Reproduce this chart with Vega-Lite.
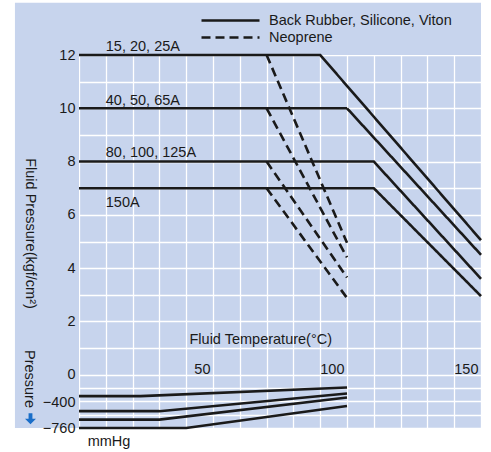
{
  "$schema": "https://vega.github.io/schema/vega-lite/v6.json",
  "width": 402,
  "height": 373,
  "padding": {"left": 14, "top": 2, "right": 5, "bottom": 5},
  "config": {
    "font": "Liberation Sans",
    "view": {"fill": "#c7d4ed", "stroke": null},
    "axis": {"labelFont": "Liberation Sans", "titleFont": "Liberation Sans", "labelFontSize": 14.5, "titleFontSize": 14.5, "labelColor": "#1a1a1a", "titleColor": "#1a1a1a", "titleFontWeight": "normal"},
    "text": {"font": "Liberation Sans", "fontSize": 14.5, "color": "#1a1a1a"}
  },
  "datasets": {
    "lines": [
      {"series": "15, 20, 25A", "material": "Back Rubber, Silicone, Viton", "temp": 0, "pressure": 12},
      {"series": "15, 20, 25A", "material": "Back Rubber, Silicone, Viton", "temp": 90, "pressure": 12},
      {"series": "15, 20, 25A", "material": "Back Rubber, Silicone, Viton", "temp": 150, "pressure": 5.05},
      {"series": "40, 50, 65A", "material": "Back Rubber, Silicone, Viton", "temp": 0, "pressure": 10},
      {"series": "40, 50, 65A", "material": "Back Rubber, Silicone, Viton", "temp": 100, "pressure": 10},
      {"series": "40, 50, 65A", "material": "Back Rubber, Silicone, Viton", "temp": 150, "pressure": 4.5},
      {"series": "80, 100, 125A", "material": "Back Rubber, Silicone, Viton", "temp": 0, "pressure": 8},
      {"series": "80, 100, 125A", "material": "Back Rubber, Silicone, Viton", "temp": 110, "pressure": 8},
      {"series": "80, 100, 125A", "material": "Back Rubber, Silicone, Viton", "temp": 150, "pressure": 3.6},
      {"series": "150A", "material": "Back Rubber, Silicone, Viton", "temp": 0, "pressure": 7},
      {"series": "150A", "material": "Back Rubber, Silicone, Viton", "temp": 110, "pressure": 7},
      {"series": "150A", "material": "Back Rubber, Silicone, Viton", "temp": 150, "pressure": 2.95},
      {"series": "15, 20, 25A N", "material": "Neoprene", "temp": 70, "pressure": 12},
      {"series": "15, 20, 25A N", "material": "Neoprene", "temp": 100, "pressure": 4.95},
      {"series": "40, 50, 65A N", "material": "Neoprene", "temp": 70, "pressure": 10},
      {"series": "40, 50, 65A N", "material": "Neoprene", "temp": 100, "pressure": 4.4},
      {"series": "80, 100, 125A N", "material": "Neoprene", "temp": 70, "pressure": 8},
      {"series": "80, 100, 125A N", "material": "Neoprene", "temp": 100, "pressure": 3.65},
      {"series": "150A N", "material": "Neoprene", "temp": 70, "pressure": 7},
      {"series": "150A N", "material": "Neoprene", "temp": 100, "pressure": 2.88}
    ],
    "vacuum": [
      {"series": "V1", "temp": 0, "mmHg": -305},
      {"series": "V1", "temp": 23, "mmHg": -305},
      {"series": "V1", "temp": 100, "mmHg": -182},
      {"series": "V2", "temp": 0, "mmHg": -520},
      {"series": "V2", "temp": 30, "mmHg": -520},
      {"series": "V2", "temp": 100, "mmHg": -268},
      {"series": "V3", "temp": 0, "mmHg": -641},
      {"series": "V3", "temp": 30, "mmHg": -641},
      {"series": "V3", "temp": 100, "mmHg": -325},
      {"series": "V4", "temp": 0, "mmHg": -760},
      {"series": "V4", "temp": 40, "mmHg": -760},
      {"series": "V4", "temp": 100, "mmHg": -445}
    ],
    "labels": [
      {"label": "15, 20, 25A", "temp": 10, "pressure": 12.14},
      {"label": "40, 50, 65A", "temp": 10, "pressure": 10.14},
      {"label": "80, 100, 125A", "temp": 10, "pressure": 8.18},
      {"label": "150A", "temp": 10, "pressure": 6.3}
    ]
  },
  "layer": [
    {
      "layer": [
        {
          "data": {"values": [{}]},
          "mark": {"type": "rect", "fill": "#c7d4ed"},
          "encoding": {
            "x": {"datum": -23.9, "type": "quantitative", "scale": {"domain": [0, 150], "nice": false, "zero": false}, "axis": null},
            "x2": {"datum": 0},
            "y": {"datum": -2, "type": "quantitative", "scale": {"domain": [-2, 12], "nice": false, "zero": false}, "axis": null},
            "y2": {"datum": 13.96}
          }
        },
        {
          "data": {"values": [{}]},
          "mark": {"type": "rect", "fill": "#c7d4ed"},
          "encoding": {
            "x": {"datum": 0, "type": "quantitative", "scale": {"domain": [0, 150], "nice": false, "zero": false}, "axis": null},
            "x2": {"datum": 150},
            "y": {"datum": 12, "type": "quantitative", "scale": {"domain": [-2, 12], "nice": false, "zero": false}, "axis": null},
            "y2": {"datum": 13.96}
          }
        },
        {
          "data": {"name": "lines"},
          "mark": {"type": "line", "color": "#1a1a1a", "strokeWidth": 2.6, "strokeCap": "butt"},
          "encoding": {
            "x": {"field": "temp", "type": "quantitative", "scale": {"domain": [0, 150], "nice": false, "zero": false},
              "axis": {"orient": "bottom", "values": [0, 10, 20, 30, 40, 50, 60, 70, 80, 90, 100, 110, 120, 130, 140, 150], "grid": true, "gridColor": "#ffffff", "gridWidth": 1.3, "gridOpacity": 1, "labels": false, "ticks": false, "domain": false, "title": null, "zindex": 0}},
            "y": {"field": "pressure", "type": "quantitative", "scale": {"domain": [-2, 12], "nice": false, "zero": false},
              "axis": {"orient": "left", "values": [-2, -1.5, -1, -0.5, 0, 1, 2, 3, 4, 5, 6, 7, 8, 9, 10, 11, 12], "grid": true, "gridColor": "#ffffff", "gridWidth": 1.3, "gridOpacity": 1, "labels": false, "ticks": false, "domain": false, "title": null, "zindex": 0}},
            "detail": {"field": "series"},
            "strokeDash": {"field": "material", "type": "nominal",
              "scale": {"domain": ["Back Rubber, Silicone, Viton", "Neoprene"], "range": [[1, 0], [9, 5]]},
              "legend": {"orient": "none", "legendX": 121, "legendY": -43, "title": null, "symbolType": "stroke", "symbolSize": 3364, "symbolStrokeWidth": 2.6, "symbolStrokeColor": "#1a1a1a", "clipHeight": 17, "rowPadding": 0, "labelOffset": 8, "labelFontSize": 14.5, "labelColor": "#1a1a1a", "labelFont": "Liberation Sans", "padding": 0, "labelLimit": 300}}
          }
        },
        {
          "data": {"name": "labels"},
          "mark": {"type": "text", "align": "left", "baseline": "alphabetic"},
          "encoding": {
            "x": {"field": "temp", "type": "quantitative", "scale": {"domain": [0, 150], "nice": false, "zero": false},
              "axis": {"orient": "top", "offset": -320, "values": [50, 100, 150], "grid": false, "domain": false, "ticks": false, "labelAlign": "right", "labelBaseline": "alphabetic", "labelPadding": 2, "labelOffset": -3, "labelFlush": false, "labelOverlap": false, "title": "Fluid Temperature(°C)", "titleX": 110, "titleY": -36, "titleAlign": "left", "titleBaseline": "middle", "titleAngle": 0, "zindex": 1}},
            "y": {"field": "pressure", "type": "quantitative", "scale": {"domain": [-2, 12], "nice": false, "zero": false},
              "axis": {"orient": "left", "values": [12, 10, 8, 6, 4, 2, 0, -1.0526, -2], "grid": false, "domain": false, "ticks": false, "labelPadding": 4, "labelOverlap": false, "labelFlush": false, "labelExpr": "datum.value < -1.5 ? '−760' : datum.value < 0 ? '−400' : datum.label", "title": "Fluid Pressure(kgf/cm²)", "titleAngle": 90, "titleX": -50, "titleY": 178, "titleAlign": "center", "titleBaseline": "middle", "zindex": 1}},
            "text": {"field": "label"}
          }
        },
        {
          "data": {"values": [{"label": "Pressure", "temp": -18.7, "pressure": -0.16}]},
          "mark": {"type": "text", "align": "center", "baseline": "middle", "angle": 90},
          "encoding": {
            "x": {"field": "temp", "type": "quantitative", "scale": {"domain": [0, 150], "nice": false, "zero": false}, "axis": null},
            "y": {"field": "pressure", "type": "quantitative", "scale": {"domain": [-2, 12], "nice": false, "zero": false}, "axis": null},
            "text": {"field": "label"}
          }
        },
        {
          "data": {"values": [{"label": "mmHg", "temp": 3.25, "pressure": -2.68}]},
          "mark": {"type": "text", "align": "left", "baseline": "alphabetic"},
          "encoding": {
            "x": {"field": "temp", "type": "quantitative", "scale": {"domain": [0, 150], "nice": false, "zero": false}, "axis": null},
            "y": {"field": "pressure", "type": "quantitative", "scale": {"domain": [-2, 12], "nice": false, "zero": false}, "axis": null},
            "text": {"field": "label"}
          }
        },
        {
          "data": {"values": [{"label": "vacuum", "temp": -18.1, "pressure": -1.65}]},
          "mark": {"type": "point", "filled": true, "color": "#1a6ec8", "opacity": 1, "size": 121, "shape": "M-0.35,-1L0.35,-1L0.35,0L1,0L0,1L-1,0L-0.35,0Z"},
          "encoding": {
            "x": {"field": "temp", "type": "quantitative", "scale": {"domain": [0, 150], "nice": false, "zero": false}, "axis": null},
            "y": {"field": "pressure", "type": "quantitative", "scale": {"domain": [-2, 12], "nice": false, "zero": false}, "axis": null}
          }
        }
      ],
      "resolve": {"axis": {"x": "independent", "y": "independent"}}
    },
    {
      "data": {"name": "vacuum"},
      "mark": {"type": "line", "color": "#1a1a1a", "strokeWidth": 2.6, "strokeCap": "butt"},
      "encoding": {
        "x": {"field": "temp", "type": "quantitative", "scale": {"domain": [0, 150], "nice": false, "zero": false}, "axis": null},
        "y": {"field": "mmHg", "type": "quantitative", "scale": {"domain": [-760, 4560], "nice": false, "zero": false}, "axis": null},
        "detail": {"field": "series"}
      }
    }
  ],
  "resolve": {"scale": {"y": "independent"}, "axis": {"x": "independent", "y": "independent"}}
}
